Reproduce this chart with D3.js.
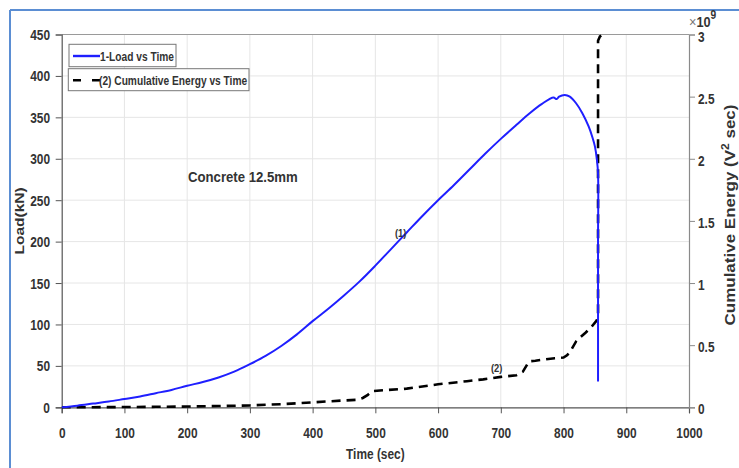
<!DOCTYPE html>
<html>
<head>
<meta charset="utf-8">
<script src="https://cdn.jsdelivr.net/npm/d3@7"></script>
<style>
  html, body { margin: 0; padding: 0; background: #fff; }
  svg { display: block; }
  text { font-family: "Liberation Sans", Arial, sans-serif; font-weight: bold; fill: #333; }
</style>
</head>
<body>
<svg id="chart" width="739" height="468"></svg>
<script>
// Load (kN) against time (sec)
const loadTime = [0, 25, 50, 75, 100, 125, 150, 175, 200, 225, 250, 275, 300, 325, 350, 375, 400, 425, 450, 475, 500, 525, 550, 575, 600, 625, 650, 675, 700, 725, 746, 765, 784, 789, 793, 802, 810, 820, 830, 840, 846, 850, 853, 855, 855, 855];
const loadValue = [0, 2, 4.5, 7, 10, 13, 17, 21, 26, 30.5, 36, 43, 52, 62, 74, 88, 104, 119, 135, 152, 171, 191, 211, 231, 250, 268, 287, 306, 324, 341, 355, 366, 374, 372, 375, 377, 375, 367, 355, 339, 326, 315, 300, 282, 200, 31];

// Cumulative energy (x10^9 V^2 sec) against time (sec)
const energyTime = [0, 50, 100, 150, 200, 250, 300, 350, 400, 450, 470, 480, 488, 495, 520, 550, 600, 646, 672, 700, 725, 735, 745, 755, 786, 800, 806, 812, 820, 826, 835, 845, 853, 855, 855, 858, 863];
const energyValue = [0, 0.001, 0.002, 0.004, 0.006, 0.01, 0.015, 0.025, 0.04, 0.055, 0.06, 0.075, 0.1, 0.13, 0.14, 0.15, 0.185, 0.21, 0.225, 0.245, 0.258, 0.285, 0.37, 0.375, 0.395, 0.40, 0.42, 0.46, 0.53, 0.56, 0.6, 0.65, 0.70, 0.75, 2.95, 2.985, 3.0];

const timeTicks = [0, 100, 200, 300, 400, 500, 600, 700, 800, 900, 1000];
const loadTicks = [0, 50, 100, 150, 200, 250, 300, 350, 400, 450];
const energyTicks = [0, 0.5, 1, 1.5, 2, 2.5, 3];
const energyTickLabels = ["0", "0.5", "1", "1.5", "2", "2.5", "3"];

const legendLabels = ["1-Load vs Time", "(2) Cumulative Energy vs Time"];
const annotation = "Concrete 12.5mm";

const SX = 0.85; // horizontal squeeze applied to all text

const svg = d3.select("#chart");
const plot = { left: 61.7, right: 689, top: 34.5, bottom: 407.3 };

const x = d3.scaleLinear().domain([0, 1000]).range([plot.left, plot.right]);
const yL = d3.scaleLinear().domain([0, 450]).range([plot.bottom, plot.top]);
const yR = d3.scaleLinear().domain([0, 3]).range([plot.bottom, plot.top]);

// place a narrowed text at (tx, ty)
function label(parent, tx, ty, size, str, anchor = "start", fill = "#333") {
  return parent.append("text")
    .attr("transform", `translate(${tx},${ty}) scale(${SX},1)`)
    .attr("font-size", size).attr("text-anchor", anchor).attr("fill", fill).text(str);
}

// outer frame (top and left edges)
svg.append("line").attr("x1", 10).attr("y1", 10).attr("x2", 739).attr("y2", 10)
  .attr("stroke", "#5b8ed3").attr("stroke-width", 2);
svg.append("line").attr("x1", 10).attr("y1", 10).attr("x2", 10).attr("y2", 468)
  .attr("stroke", "#5b8ed3").attr("stroke-width", 2);

// grid
const grid = svg.append("g").attr("stroke", "#e6e6e6").attr("stroke-width", 1);
grid.selectAll(".gx").data(timeTicks.slice(1, -1)).join("line")
  .attr("x1", d => x(d)).attr("x2", d => x(d)).attr("y1", plot.top).attr("y2", plot.bottom);
grid.selectAll(".gy").data(loadTicks.slice(1, -1)).join("line")
  .attr("x1", plot.left).attr("x2", plot.right).attr("y1", d => yL(d)).attr("y2", d => yL(d));

// top border
svg.append("line").attr("x1", plot.left).attr("x2", plot.right).attr("y1", plot.top).attr("y2", plot.top)
  .attr("stroke", "#9a9a9a").attr("stroke-width", 1.2);

// axes
const fs = 14;
const xAxis = svg.append("g").attr("transform", `translate(0,${plot.bottom})`)
  .call(d3.axisBottom(x).tickValues(timeTicks).tickSize(6).tickFormat(d3.format("d")));
const yAxisL = svg.append("g").attr("transform", `translate(${plot.left},0)`)
  .call(d3.axisLeft(yL).tickValues(loadTicks).tickSize(6).tickFormat(d3.format("d")));
const yAxisR = svg.append("g").attr("transform", `translate(${plot.right},0)`)
  .call(d3.axisRight(yR).tickValues(energyTicks).tickSize(6).tickFormat((d, i) => energyTickLabels[i]));

[xAxis, yAxisL, yAxisR].forEach(g => g.attr("font-family", null).attr("font-size", null));
[xAxis, yAxisL].forEach(g => {
  g.select(".domain").attr("stroke", "#555").attr("stroke-width", 1.2);
  g.selectAll(".tick line").attr("stroke", "#555");
});
yAxisR.select(".domain").attr("stroke", "#8a8a8a").attr("stroke-width", 1.2);
yAxisR.selectAll(".tick line").attr("stroke", "#8a8a8a");

xAxis.selectAll(".tick text").attr("font-size", fs).attr("fill", "#333")
  .attr("y", null).attr("dy", null).attr("transform", `translate(0,30.7) scale(${SX},1)`);
yAxisL.selectAll(".tick text").attr("font-size", fs).attr("fill", "#333")
  .attr("x", null).attr("dy", null).attr("transform", `translate(-11.7,5) scale(${SX},1)`);
yAxisR.selectAll(".tick text").attr("font-size", fs).attr("fill", "#333")
  .attr("x", null).attr("dy", null).attr("transform", `translate(9,6.5) scale(${SX},1)`);

// axis titles
label(svg, (plot.left + plot.right) / 2, 459, 14, "Time (sec)", "middle");
svg.append("text").attr("transform", `translate(24,${(plot.top + plot.bottom) / 2}) scale(${SX},1) rotate(-90)`)
  .attr("text-anchor", "middle").attr("font-size", 15.5).text("Load(kN)");
const rTitle = svg.append("text").attr("transform", `translate(734.5,215) scale(${SX},1) rotate(-90)`)
  .attr("text-anchor", "middle").attr("font-size", 17);
rTitle.append("tspan").text("Cumulative Energy (V");
rTitle.append("tspan").attr("dy", -7).attr("font-size", 12).text("2");
rTitle.append("tspan").attr("dy", 7).text(" sec)");

// exponent marker for the right axis
const expo = svg.append("text").attr("transform", `translate(689,27) scale(${SX},1)`).attr("font-size", 15);
expo.append("tspan").attr("font-weight", "normal").attr("fill", "#777").text("\u00d7");
expo.append("tspan").text("10");
expo.append("tspan").attr("dy", -8).attr("font-size", 12).text("9");

// clip to plot area
svg.append("clipPath").attr("id", "plotClip").append("rect")
  .attr("x", plot.left).attr("y", plot.top - 2)
  .attr("width", plot.right - plot.left).attr("height", plot.bottom - plot.top + 4);

const loadLine = d3.line().x((d, i) => x(loadTime[i])).y(d => yL(d)).curve(d3.curveCatmullRom.alpha(0.5));
const energyLine = d3.line().x((d, i) => x(energyTime[i])).y(d => yR(d));

svg.append("path").datum(energyValue).attr("clip-path", "url(#plotClip)")
  .attr("d", energyLine).attr("fill", "none").attr("stroke", "#000")
  .attr("stroke-width", 2.6).attr("stroke-dasharray", "9,6");

svg.append("path").datum(loadValue).attr("clip-path", "url(#plotClip)")
  .attr("d", loadLine).attr("fill", "none").attr("stroke", "#1f1fff")
  .attr("stroke-width", 2).attr("stroke-linejoin", "round");

// curve labels and annotation
label(svg, 395, 237, 11, "(1)");
label(svg, 491, 372, 11, "(2)");
label(svg, 188, 181.5, 15.5, annotation, "start", "#111");

// legend
const leg = svg.append("g");
leg.append("rect").attr("x", 69).attr("y", 44.3).attr("width", 107).attr("height", 22.4)
  .attr("fill", "#fff").attr("stroke", "#777").attr("stroke-width", 1);
leg.append("line").attr("x1", 73).attr("x2", 100).attr("y1", 56).attr("y2", 56)
  .attr("stroke", "#1f1fff").attr("stroke-width", 2.4);
label(leg, 100, 60.5, 12, legendLabels[0], "start", "#111");

leg.append("rect").attr("x", 68.3).attr("y", 68.7).attr("width", 180.7).attr("height", 22)
  .attr("fill", "#fff").attr("stroke", "#777").attr("stroke-width", 1);
leg.append("line").attr("x1", 73).attr("x2", 100).attr("y1", 80.3).attr("y2", 80.3)
  .attr("stroke", "#000").attr("stroke-width", 2.6).attr("stroke-dasharray", "8,11,8");
label(leg, 99, 84.8, 12, legendLabels[1], "start", "#111");
</script>
</body>
</html>
